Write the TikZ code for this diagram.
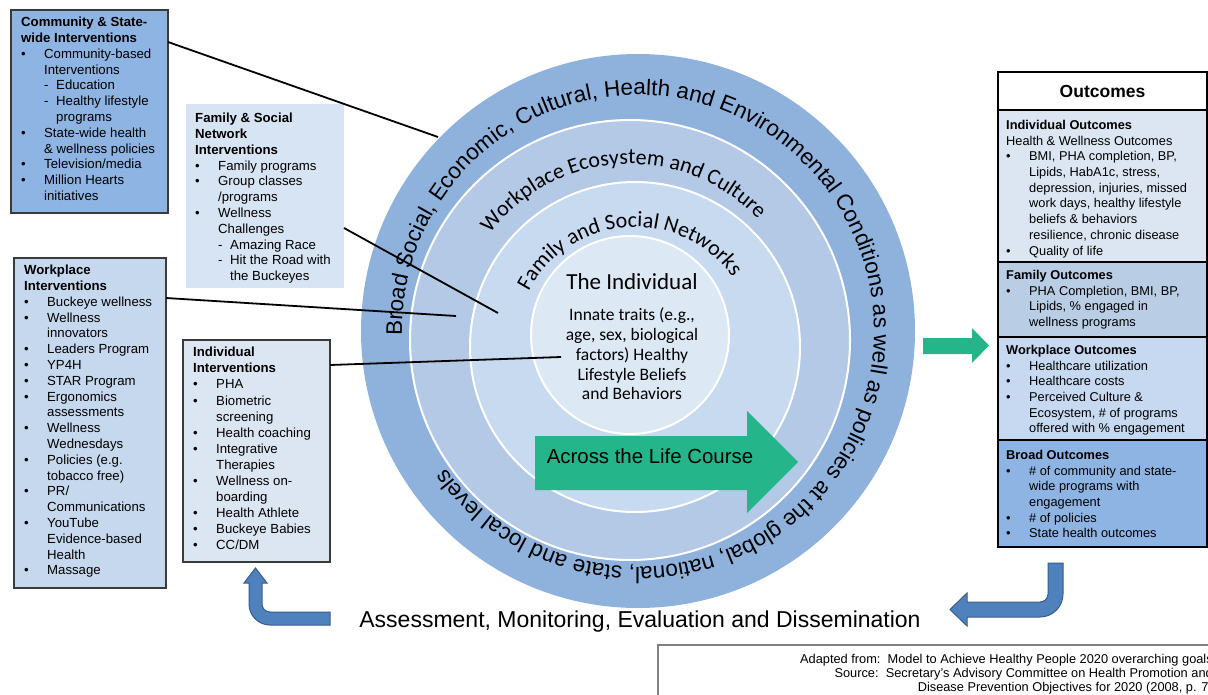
\documentclass[tikz,border=0pt]{standalone}
\usepackage{fontspec}
\setmainfont{Liberation Sans}
\newfontfamily\carlito{Carlito}
\usetikzlibrary{decorations.text,calc}
\definecolor{ringA}{HTML}{8FB2DD}
\definecolor{ringB}{HTML}{B3C9E5}
\definecolor{ringC}{HTML}{C8DAEF}
\definecolor{ringD}{HTML}{DDE8F5}
\definecolor{commfill}{HTML}{8EB4E3}
\definecolor{famfill}{HTML}{D7E4F3}
\definecolor{wpfill}{HTML}{C6D8EE}
\definecolor{indfill}{HTML}{DCE6F2}
\definecolor{ofam}{HTML}{B9CDE5}
\definecolor{owp}{HTML}{C6D9F0}
\definecolor{lifegreen}{HTML}{24B68A}
\definecolor{arrowblue}{HTML}{4F81BD}
\definecolor{arrowedge}{HTML}{385D8A}
\definecolor{boxline}{HTML}{3A3A3A}
\newcommand{\bulA}{\makebox[23pt][l]{\textbullet}}
\newcommand{\conA}{\hspace*{23pt}}
\newcommand{\dshA}{\makebox[12pt][l]{-}}
\newcommand{\subA}{\hspace*{12pt}}
\begin{document}
\begin{tikzpicture}[x=1pt,y=1pt,
  box/.style={anchor=north west, inner sep=0, outer sep=0, draw=boxline, line width=1.2pt},
  obox/.style={anchor=north west, inner sep=0, outer sep=0, draw=black, line width=1.2pt, minimum width=209},
  txt/.style={anchor=north west, align=left, inner sep=0, font=\fontsize{13.2}{15.8}\selectfont},
  otxt/.style={anchor=north west, align=left, inner sep=0, font=\fontsize{12.8}{15.7}\selectfont},
  ring/.style={circle, draw=white, line width=2pt, inner sep=0},
  conn/.style={line width=1.8pt, draw=black},
  uarrow/.style={fill=arrowblue, draw=arrowedge, line width=1pt},
]
\useasboundingbox (0,0) rectangle (1208,-694);
\clip (0,0) rectangle (1208,-694);
\fill[white] (0,0) rectangle (1208,-694);

% ---------------- circles
\node[ring, fill=ringA, draw=none, minimum size=554] (outer) at (638,-331) {};
\node[ring, fill=ringB, minimum size=440] (wpc) at (630,-340) {};
\node[ring, fill=ringC, minimum size=330] (famc) at (635,-347) {};
\node[ring, fill=ringD, minimum size=198] (indc) at (630,-335) {};

% curved labels
\path[decorate, decoration={text along path, text align={fit to path},
  text={|\fontsize{22.5}{22.5}\selectfont|Broad Social, Economic, Cultural, Health and Environmental Conditions as well as policies at the global, national, state and local levels}}]
  ($(outer.center)+(181:236)$) arc[start angle=181, end angle=-144, radius=236];
\path[decorate, decoration={text along path, text align=center,
  text={|\carlito\fontsize{22}{22}\selectfont|Workplace Ecosystem and Culture}}]
  ($(wpc.center)+(150:176)$) arc[start angle=150, end angle=36, radius=176];
\path[decorate, decoration={text along path, text align=center,
  text={|\carlito\fontsize{22}{22}\selectfont|Family and Social Networks}}]
  ($(famc.center)+(154:120)$) arc[start angle=154, end angle=34, radius=120];

\node[font=\carlito\fontsize{23}{23}\selectfont, inner sep=0] (indtitle) at (632,-282) {The Individual};
\node[align=center, inner sep=0, font=\carlito\fontsize{17.5}{19.7}\selectfont] (traits) at (632,-354)
  {Innate traits (e.g.,\\ age, sex, biological\\ factors) Healthy\\ Lifestyle Beliefs\\ and Behaviors};

% life course arrow
\fill[lifegreen] (535,-436) -- (747,-436) -- (747,-411) -- (798,-462) -- (747,-513) -- (747,-490) -- (535,-490) -- cycle;
\node[font=\fontsize{20.4}{20.4}\selectfont, inner sep=0] (life) at (650,-456) {Across the Life Course};

% ---------------- left boxes
\node[box, fill=commfill, minimum width=157, minimum height=203] (comm) at (11,-10) {};
\node[txt] (commtxt) at (21,-17) {%
\textbf{Community \& State-}\\
\textbf{wide Interventions}\\
\bulA Community-based\\
\conA Interventions\\
\conA\dshA Education\\
\conA\dshA Healthy lifestyle\\
\conA\subA programs\\
\bulA State-wide health\\
\conA \& wellness policies\\
\bulA Television/media\\
\bulA Million Hearts\\
\conA initiatives};

\node[box, draw=none, fill=famfill, minimum width=158, minimum height=184] (famb) at (186,-104) {};
\node[txt] (famtxt) at (195,-113) {%
\textbf{Family \& Social}\\
\textbf{Network}\\
\textbf{Interventions}\\
\bulA Family programs\\
\bulA Group classes\\
\conA /programs\\
\bulA Wellness\\
\conA Challenges\\
\conA\dshA Amazing Race\\
\conA\dshA Hit the Road with\\
\conA\subA the Buckeyes};

\node[box, fill=wpfill, minimum width=152, minimum height=330] (wpb) at (14,-258) {};
\node[txt] (wptxt) at (24,-265) {%
\textbf{Workplace}\\
\textbf{Interventions}\\
\bulA Buckeye wellness\\
\bulA Wellness\\
\conA innovators\\
\bulA Leaders Program\\
\bulA YP4H\\
\bulA STAR Program\\
\bulA Ergonomics\\
\conA assessments\\
\bulA Wellness\\
\conA Wednesdays\\
\bulA Policies (e.g.\\
\conA tobacco free)\\
\bulA PR/\\
\conA Communications\\
\bulA YouTube\\
\conA Evidence-based\\
\conA Health\\
\bulA Massage};

\node[box, fill=indfill, minimum width=147, minimum height=222] (indb) at (183,-340) {};
\node[txt, font=\fontsize{13.2}{16.1}\selectfont] (indtxt) at (193,-347) {%
\textbf{Individual}\\
\textbf{Interventions}\\
\bulA PHA\\
\bulA Biometric\\
\conA screening\\
\bulA Health coaching\\
\bulA Integrative\\
\conA Therapies\\
\bulA Wellness on-\\
\conA boarding\\
\bulA Health Athlete\\
\bulA Buckeye Babies\\
\bulA CC/DM};

% ---------------- connectors
\coordinate (endcomm) at (438,-137);
\coordinate (endfam) at (498,-313);
\coordinate (endwp) at (456,-316);
\coordinate (endind) at (561,-357);
\draw[conn] ([yshift=-32pt]comm.north east) -- (endcomm);
\draw[conn] ([yshift=-124pt]famb.north east) -- (endfam);
\draw[conn] ([yshift=-40pt]wpb.north east) -- (endwp);
\draw[conn] ([yshift=-25pt]indb.north east) -- (endind);

% ---------------- outcomes column
\node[obox, fill=white, minimum height=38, font=\bfseries\fontsize{17.5}{17.5}\selectfont] (outtitle) at (998,-72) {Outcomes};
\node[obox, fill=indfill, minimum height=152] (oind) at (998,-110) {};
\node[obox, fill=ofam, minimum height=75] (ofamb) at (998,-262) {};
\node[obox, fill=owp, minimum height=103] (owpb) at (998,-337) {};
\node[obox, fill=commfill, minimum height=107] (obroad) at (998,-440) {};

\node[otxt] (oindtxt) at (1006,-120) {%
\textbf{Individual Outcomes}\\
Health \& Wellness Outcomes\\
\bulA BMI, PHA completion, BP,\\
\conA Lipids, HabA1c, stress,\\
\conA depression, injuries, missed\\
\conA work days, healthy lifestyle\\
\conA beliefs \& behaviors\\
\conA resilience, chronic disease\\
\bulA Quality of life};
\node[otxt] (ofamtxt) at (1006,-270) {%
\textbf{Family Outcomes}\\
\bulA PHA Completion, BMI, BP,\\
\conA Lipids, \% engaged in\\
\conA wellness programs};
\node[otxt] (owptxt) at (1006,-345) {%
\textbf{Workplace Outcomes}\\
\bulA Healthcare utilization\\
\bulA Healthcare costs\\
\bulA Perceived Culture \&\\
\conA Ecosystem, \# of programs\\
\conA offered with \% engagement};
\node[otxt] (obroadtxt) at (1006,-450) {%
\textbf{Broad Outcomes}\\
\bulA \# of community and state-\\
\conA wide programs with\\
\conA engagement\\
\bulA \# of policies\\
\bulA State health outcomes};

% green arrow to outcomes
\fill[lifegreen] (923,-338) -- (972,-338) -- (972,-328) -- (989,-345.5) -- (972,-363) -- (972,-354) -- (923,-354) -- cycle;

% ---------------- feedback arrows
\draw[uarrow] (330,-612) -- (270,-612) arc[start angle=270, end angle=180, radius=8]
  -- (262,-583) -- (267,-583) -- (255.5,-568) -- (244,-583) -- (249,-583) -- (249,-604)
  arc[start angle=180, end angle=270, radius=21] -- (330,-625) -- cycle;
\draw[uarrow] (1048,-563) -- (1063,-563) -- (1063,-594) arc[start angle=0, end angle=-90, radius=23]
  -- (967,-617) -- (967,-626) -- (950,-609.5) -- (967,-593) -- (967,-602) -- (1040,-602)
  arc[start angle=-90, end angle=0, radius=8] -- cycle;

\node[font=\fontsize{23}{23}\selectfont, inner sep=0] (assess) at (640,-622) {Assessment, Monitoring, Evaluation and Dissemination};

% ---------------- citation
\node[anchor=north west, inner sep=0, draw=gray, line width=1.5pt, minimum width=570, minimum height=70] (citebox) at (657,-644) {};
\node[anchor=north east, align=right, inner sep=0, font=\fontsize{12.8}{14}\selectfont] (cite) at (1213,-654)
  {Adapted from:\ \ Model to Achieve Healthy People 2020 overarching goals\\
   Source:\ \ Secretary’s Advisory Committee on Health Promotion and\\
   Disease Prevention Objectives for 2020 (2008, p. 7)};
\end{tikzpicture}
\end{document}
